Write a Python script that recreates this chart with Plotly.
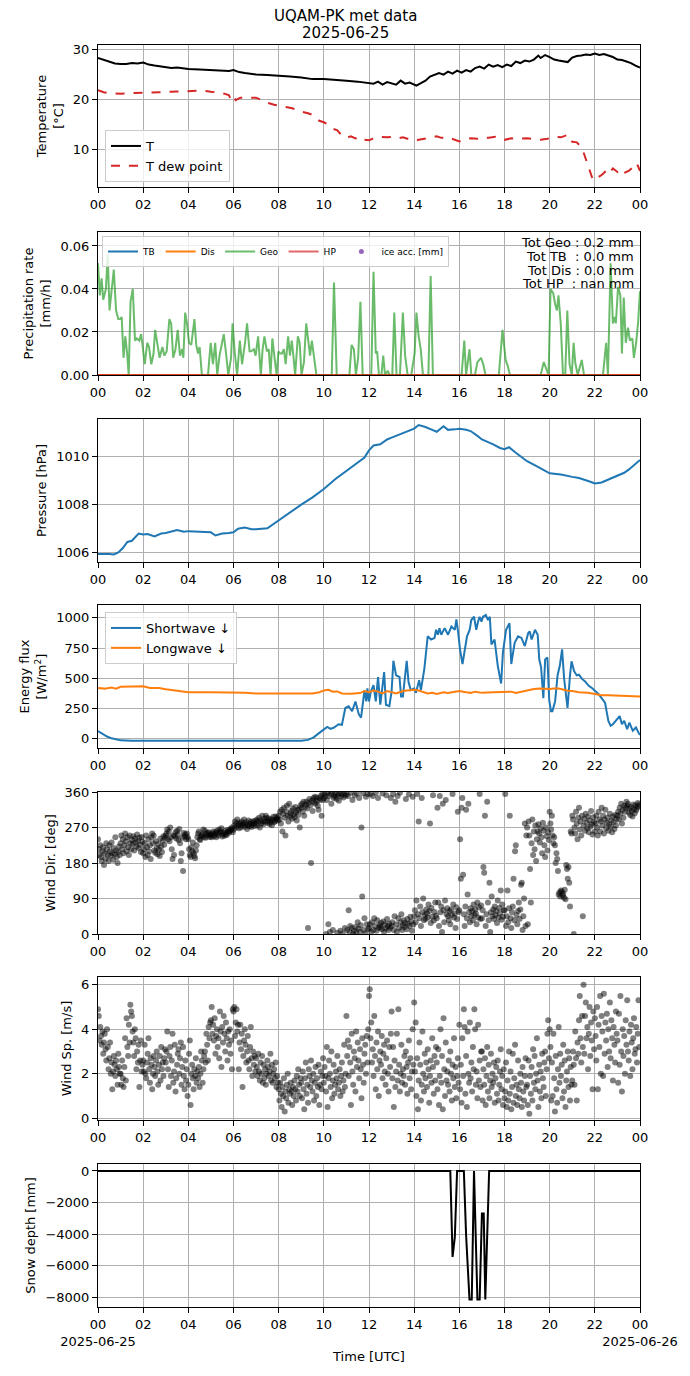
import pandas as pd
import plotly.graph_objects as go

BASE = pd.Timestamp("2025-06-25 00:00")
END = pd.Timestamp("2025-06-26 00:00")

# ---------------- data ----------------
t_hours = [0, 0.25, 0.5, 0.75, 1.0, 1.25, 1.5, 1.75, 2.0, 2.25, 2.5, 2.75, 3.0, 3.25, 3.5, 3.75,
           4.0, 4.5, 5.0, 5.5, 5.8, 6.0, 6.25, 6.5, 7.0, 7.5, 8.0, 8.5, 9.0, 9.5, 10.0, 10.5, 11.0,
           11.5, 12.0, 12.2, 12.4, 12.6, 12.8, 13.0, 13.2, 13.4, 13.6, 13.8, 14.0, 14.1, 14.3, 14.5,
           14.7, 14.9, 15.1, 15.3, 15.5, 15.7, 15.9, 16.1, 16.3, 16.5, 16.7, 16.9, 17.1, 17.3, 17.5,
           17.7, 17.9, 18.1, 18.3, 18.5, 18.7, 18.9, 19.1, 19.3, 19.5, 19.6, 19.8, 20.0, 20.2, 20.4,
           20.6, 20.8, 21.0, 21.2, 21.4, 21.6, 21.8, 22.0, 22.2, 22.4, 22.6, 22.8, 23.0, 23.2, 23.4,
           23.6, 23.8, 24.0]
t_air = [28.3, 27.9, 27.5, 27.2, 27.1, 27.1, 27.3, 27.2, 27.4, 27.0, 26.8, 26.6, 26.5, 26.3, 26.4, 26.2,
         26.1, 26.0, 25.9, 25.8, 25.7, 25.9, 25.5, 25.3, 25.0, 24.9, 24.8, 24.6, 24.4, 24.1, 24.1, 24.0, 23.8,
         23.6, 23.3, 23.2, 23.6, 23.0, 23.5, 23.3, 23.0, 23.8, 23.2, 23.4, 23.0, 22.8, 23.3, 23.8,
         24.6, 25.0, 25.3, 25.0, 25.6, 25.2, 25.8, 25.4, 25.9, 25.6, 26.3, 26.6, 26.2, 27.0, 26.6,
         26.9, 26.5, 27.0, 26.7, 27.6, 27.3, 27.8, 27.6, 28.0, 28.8, 28.3, 28.9, 28.5, 28.0, 27.8,
         27.6, 27.5, 28.4, 28.7, 28.8, 29.0, 28.9, 29.2, 28.9, 29.1, 28.8, 28.5, 28.0, 27.9, 27.6,
         27.3, 26.8, 26.4]

td_hours = [0, 0.25, 0.5, 0.75, 1.0, 1.5, 2.0, 2.5, 3.0, 3.5, 4.0, 4.3, 4.6, 5.0, 5.3, 5.6, 5.8, 5.9,
            6.0, 6.1, 6.3, 6.6, 7.0, 7.2, 7.5, 7.8, 8.0, 8.3, 8.6, 9.0, 9.3, 9.6, 9.8, 10.0, 10.2, 10.4,
            10.6, 10.8, 11.0, 11.2, 11.4, 11.6, 11.8, 12.0, 12.2, 12.5, 12.8, 13.0, 13.3, 13.5, 13.8,
            14.0, 14.2, 14.5, 14.8, 15.0, 15.2, 15.5, 15.8, 16.0, 16.2, 16.5, 16.8, 17.0, 17.3, 17.6,
            17.9, 18.0, 18.3, 18.6, 19.0, 19.3, 19.6, 19.9, 20.2, 20.5, 20.8, 20.9, 21.0, 21.2, 21.35,
            21.5, 21.65, 21.8, 21.9, 22.0, 22.1, 22.3, 22.5, 22.6, 22.8, 23.0, 23.1, 23.3, 23.5, 23.7,
            23.85, 24.0]
t_dew = [21.9, 21.5, 21.3, 21.2, 21.2, 21.3, 21.4, 21.4, 21.5, 21.6, 21.7, 21.8, 21.8, 21.6, 21.5, 21.2, 20.9, 19.8,
         20.5, 19.9, 20.4, 20.4, 20.4, 20.0, 19.4, 19.0, 18.8, 18.6, 18.3, 17.6, 17.3, 16.8, 15.8, 15.5, 15.0, 14.2,
         13.9, 12.8, 12.4, 12.7, 12.3, 12.6, 12.0, 11.9, 12.3, 12.6, 12.5, 12.6, 12.3, 12.5, 12.1,
         11.8, 12.0, 12.2, 12.5, 12.7, 12.4, 12.5, 12.0, 11.7, 12.1, 12.3, 12.2, 12.5, 12.4, 12.6,
         12.2, 12.0, 12.3, 12.2, 12.3, 12.1, 12.0, 12.2, 12.6, 12.5, 13.0, 12.0, 11.6, 11.5, 10.8,
         9.5, 7.5, 5.5, 4.2, 3.9, 4.4, 5.0, 5.8, 5.2, 6.3, 5.6, 6.2, 5.4, 5.8, 6.6,
         7.4, 5.8]

geo_hours = [0.0, 0.08, 0.16, 0.23, 0.35, 0.43, 0.51, 0.62, 0.7, 0.8, 0.9, 0.99, 1.05, 1.13, 1.21, 1.29,
             1.36, 1.44, 1.54, 1.64, 1.72, 1.83, 1.91, 1.97, 2.07, 2.18, 2.26, 2.36, 2.46, 2.53, 2.65,
             2.73, 2.85, 2.94, 3.04, 3.16, 3.24, 3.33, 3.43, 3.53, 3.63, 3.73, 3.78, 3.86, 3.94, 4.03,
             4.13, 4.21, 4.27, 4.35, 4.43, 4.5, 4.6, 4.72, 4.87, 4.99, 5.09, 5.19, 5.28, 5.38, 5.48,
             5.57, 5.67, 5.77, 5.89, 5.96, 6.06, 6.16, 6.28, 6.38, 6.51, 6.6, 6.71, 6.78, 6.9, 6.98,
             7.09, 7.21, 7.29, 7.37, 7.48, 7.56, 7.64, 7.72, 7.84, 7.91, 7.99, 8.07, 8.15, 8.23, 8.31,
             8.42, 8.5, 8.58, 8.65, 8.73, 8.85, 8.93, 9.01, 9.12, 9.22, 9.32, 9.39, 9.47, 9.57, 9.67,
             10.35, 10.45, 10.57, 11.13, 11.23, 11.33, 11.42, 11.52, 11.62, 11.72, 12.1, 12.2, 12.3,
             12.36, 12.44, 12.55, 12.63, 12.71, 12.83, 12.91, 13.03, 13.12, 13.22, 13.37, 13.5, 13.6,
             13.71, 13.87, 14.02, 14.1, 14.2, 14.29, 14.39, 14.63, 14.73, 14.83, 16.1, 16.22, 16.3,
             16.45, 16.53, 16.69, 16.8, 16.96, 17.06, 17.16, 17.75, 17.91, 18.05, 18.15, 18.24,
             19.6, 19.74, 19.86, 19.95, 20.04, 20.16, 20.24, 20.32, 20.39, 20.49, 20.59, 20.69, 20.78,
             20.88, 20.98, 21.06, 21.13, 21.24, 21.42, 21.52, 22.36, 22.5, 22.58, 22.7, 22.8, 22.87,
             22.93, 23.03, 23.13, 23.2, 23.28, 23.37, 23.47, 23.55, 23.66, 23.73, 23.83, 23.92, 24.0]
geo_rate = [0.052, 0.037, 0.045, 0.035, 0.040, 0.056, 0.030, 0.040, 0.049, 0.030, 0.026, 0.026, 0.027, 0.008, 0.018, 0.010,
            0.0, 0.034, 0.040, 0.016, 0.017, 0.016, 0.019, 0.014, 0.005, 0.015, 0.013, 0.005, 0.010, 0.021, 0.012,
            0.008, 0.013, 0.009, 0.011, 0.026, 0.024, 0.008, 0.012, 0.021, 0.009, 0.012, 0.008, 0.029, 0.024, 0.015,
            0.014, 0.021, 0.026, 0.014, 0.010, 0.013, 0.0, 0.0, 0.0, 0.015, 0.005, 0.015, 0.0, 0.009, 0.015,
            0.019, 0.010, 0.0, 0.008, 0.024, 0.010, 0.0, 0.016, 0.005, 0.015, 0.024, 0.011, 0.011, 0.012, 0.009,
            0.018, 0.0, 0.012, 0.018, 0.011, 0.012, 0.0, 0.017, 0.006, 0.0, 0.011, 0.010, 0.010, 0.012, 0.005,
            0.018, 0.009, 0.016, 0.009, 0.0, 0.018, 0.015, 0.0, 0.006, 0.024, 0.016, 0.009, 0.016, 0.008, 0.0,
            0.0, 0.043, 0.0, 0.0, 0.014, 0.012, 0.0, 0.008, 0.034, 0.0, 0.0, 0.048, 0.010,
            0.011, 0.0, 0.0, 0.009, 0.0, 0.002, 0.0, 0.0, 0.029, 0.0, 0.0, 0.029, 0.009,
            0.0, 0.0, 0.010, 0.029, 0.018, 0.012, 0.0, 0.0, 0.046, 0.0, 0.0, 0.016, 0.0,
            0.012, 0.0, 0.0, 0.006, 0.008, 0.005, 0.0, 0.0, 0.021, 0.007, 0.004, 0.0,
            0.0, 0.006, 0.002, 0.0, 0.040, 0.038, 0.033, 0.030, 0.037, 0.024, 0.0, 0.0, 0.030,
            0.005, 0.0, 0.015, 0.006, 0.0, 0.007, 0.0, 0.0, 0.015, 0.0, 0.052, 0.024, 0.027,
            0.024, 0.041, 0.037, 0.010, 0.036, 0.015, 0.022, 0.016, 0.017, 0.008, 0.015, 0.025, 0.039]
zero_hours = [0, 24]
zero_rate = [0.0, 0.0]
precip_totals = ["Tot Geo : 0.2 mm", "Tot TB\u00a0\u00a0: 0.0 mm", "Tot Dis : 0.0 mm", "Tot HP\u00a0\u00a0: nan mm"]

p_hours = [0, 0.3, 0.5, 0.7, 0.9, 1.1, 1.3, 1.5, 1.8, 2.0, 2.2, 2.5, 2.8, 3.0, 3.3, 3.5, 3.8, 4.0, 4.5,
           5.0, 5.2, 5.5, 5.8, 6.0, 6.2, 6.5, 6.8, 7.0, 7.5, 8.0, 8.5, 9.0, 9.5, 10.0, 10.5, 11.0,
           11.5, 11.8, 12.0, 12.2, 12.5, 12.8, 13.0, 13.2, 13.5, 13.8, 14.0, 14.2, 14.5, 14.8, 15.0,
           15.3, 15.5, 15.8, 16.0, 16.3, 16.5, 16.8, 17.0, 17.5, 17.8, 18.0, 18.2, 18.5, 19.0, 19.5,
           20.0, 20.5, 20.8, 21.0, 21.3, 21.5, 21.8, 22.0, 22.3, 22.5, 22.8, 23.0, 23.3, 23.5, 23.8, 24.0]
pressure = [1005.95, 1005.96, 1005.95, 1005.93, 1006.02, 1006.2, 1006.45, 1006.5, 1006.8, 1006.76, 1006.78, 1006.68,
            1006.8, 1006.82, 1006.88, 1006.95, 1006.88, 1006.9, 1006.87, 1006.85, 1006.72, 1006.8, 1006.82, 1006.85,
            1007.0, 1007.05, 1006.98, 1006.98, 1007.02, 1007.35, 1007.7, 1008.0, 1008.3, 1008.65, 1009.05, 1009.4,
            1009.75, 1009.95, 1010.25, 1010.45, 1010.5, 1010.7, 1010.78, 1010.85, 1010.95, 1011.05, 1011.15, 1011.3,
            1011.22, 1011.1, 1011.02, 1011.25, 1011.1, 1011.12, 1011.15, 1011.1, 1011.05, 1010.85, 1010.7, 1010.5,
            1010.35, 1010.3, 1010.38, 1010.15, 1009.8, 1009.55, 1009.3, 1009.25, 1009.18, 1009.15, 1009.1, 1009.05,
            1008.95, 1008.88, 1008.92, 1009.0, 1009.12, 1009.2, 1009.32, 1009.45, 1009.7, 1009.85]

sw_hours = [0.0, 0.2, 0.4, 0.6, 0.8, 1.0, 1.5, 2.0, 3.0, 4.0, 5.0, 6.0, 7.0, 8.0, 8.5, 9.0, 9.3, 9.55,
            9.8, 10.0, 10.15, 10.3, 10.45, 10.65, 10.8, 10.95, 11.1, 11.25, 11.4, 11.55, 11.65, 11.8,
            11.88, 11.93, 12.0, 12.08, 12.2, 12.3, 12.4, 12.5, 12.67, 12.75, 12.9, 13.0, 13.08, 13.2,
            13.35, 13.42, 13.5, 13.67, 13.75, 13.85, 14.0, 14.08, 14.22, 14.3, 14.45, 14.6, 14.75, 14.9,
            14.97, 15.05, 15.12, 15.2, 15.35, 15.5, 15.65, 15.8, 15.87, 15.95, 16.03, 16.14, 16.24,
            16.34, 16.46, 16.53, 16.65, 16.75, 16.83, 16.9, 16.98, 17.05, 17.17, 17.27, 17.35, 17.42,
            17.56, 17.7, 17.85, 17.93, 18.07, 18.22, 18.3, 18.45, 18.6, 18.75, 18.9, 19.05, 19.12,
            19.2, 19.35, 19.47, 19.54, 19.62, 19.72, 19.8, 19.9, 19.98, 20.06, 20.12, 20.24, 20.35,
            20.45, 20.55, 20.64, 20.79, 20.9, 20.97, 21.08, 21.2, 21.3, 21.42, 21.57, 21.72, 21.87,
            22.0, 22.17, 22.3, 22.45, 22.6, 22.7, 22.8, 22.96, 23.1, 23.2, 23.3, 23.43, 23.53, 23.68,
            23.82, 23.97, 24.0]
shortwave = [65, 40, 20, 5, -5, -12, -15, -15, -16, -17, -15, -15, -16, -18, -18, -15, -8, 13,
             50, 81, 99, 82, 94, 121, 116, 255, 269, 228, 309, 202, 175, 403,
             309, 417, 309, 390, 444, 309, 511, 282, 551, 282, 270, 390, 645, 524,
             511, 349, 349, 645, 470, 403, 417, 380, 484, 403, 578, 847, 820, 833,
             901, 860, 914, 860, 914, 860, 927, 900, 987, 874, 739, 618, 739,
             847, 901, 981, 1008, 901, 968, 1008, 968, 1008, 1022, 981, 1008, 780,
             820, 605, 457, 712, 901, 954, 618, 793, 847, 833, 766, 874, 887,
             820, 900, 860, 655, 591, 336, 655, 672, 320, 228, 228, 309, 524,
             605, 739, 497, 255, 524, 640, 560, 524, 530, 497, 475, 440, 420,
             395, 370, 336, 300, 148, 108, 121, 161, 188, 121, 150, 81, 134, 67,
             94, 40, 35]

lw_hours = [0, 0.3, 0.6, 0.8, 1.0, 1.5, 2.0, 2.3, 2.7, 3.0, 3.5, 3.8, 4.0, 5.0, 6.0, 6.5, 7.0, 8.0, 9.0,
            9.5, 9.8, 10.0, 10.2, 10.4, 10.6, 10.8, 11.2, 11.6, 11.8, 12.0, 12.2, 12.4, 12.6, 12.8, 13.0,
            13.2, 13.5, 13.7, 14.0, 14.2, 14.4, 14.6, 14.8, 15.0, 15.3, 15.5, 15.8, 16.0, 16.3, 16.5, 16.7,
            17.0, 17.5, 18.0, 18.3, 18.5, 18.8, 19.0, 19.3, 19.6, 20.0, 20.3, 20.5, 20.8, 21.0, 21.3, 21.7,
            22.0, 22.3, 22.6, 23.0, 23.5, 24.0]
longwave = [420, 415, 425, 415, 430, 435, 435, 420, 420, 410, 400, 395, 385, 385, 385, 380, 375, 372, 375,
            375, 385, 400, 405, 390, 392, 375, 372, 378, 395, 385, 400, 390, 375, 395, 385,
            375, 395, 400, 405, 400, 390, 375, 380, 370, 385, 378, 390, 395, 385, 380, 390,
            380, 385, 385, 390, 380, 395, 400, 412, 415, 412, 418, 412, 398, 395, 385, 380,
            370, 360, 360, 358, 355, 350]

# wind direction [deg], 30 observations per hour (hours 00 .. 23), in time order
wdir_by_hour = [
    [240, 215, 200, 225, 195, 185, 210, 220, 175, 205, 190, 230, 215, 200, 185, 225, 210, 198, 232, 205, 188, 218, 202, 245, 212, 195, 180, 208, 222, 200],
    [230, 250, 215, 240, 205, 225, 255, 235, 210, 245, 220, 200, 250, 230, 215, 238, 228, 248, 212, 242, 232, 222, 252, 236, 218, 244, 226, 208, 246, 234],
    [205, 215, 230, 195, 250, 220, 200, 240, 210, 225, 190, 245, 255, 230, 250, 212, 206, 235, 218, 202, 228, 214, 198, 242, 222, 208, 236, 248, 226, 244],
    [250, 255, 265, 240, 260, 235, 270, 245, 215, 190, 250, 200, 248, 258, 242, 262, 252, 238, 266, 230, 185, 205, 244, 160, 256, 248, 252, 240, 255, 245],
    [240, 215, 200, 195, 220, 210, 232, 205, 198, 192, 212, 225, 245, 255, 260, 240, 238, 248, 252, 250, 265, 245, 262, 244, 255, 250, 256, 258, 246, 252],
    [250, 245, 255, 260, 248, 252, 258, 245, 262, 255, 250, 265, 258, 260, 268, 247, 253, 256, 249, 262, 254, 251, 259, 264, 257, 261, 266, 263, 270, 258],
    [265, 275, 285, 270, 280, 290, 275, 268, 282, 278, 270, 285, 275, 280, 290, 272, 278, 283, 266, 276, 288, 273, 279, 284, 271, 277, 286, 281, 274, 287],
    [280, 290, 275, 285, 295, 270, 288, 280, 300, 285, 278, 292, 285, 300, 295, 282, 287, 293, 279, 284, 291, 276, 289, 297, 283, 286, 298, 290, 294, 288],
    [300, 290, 310, 280, 315, 260, 305, 320, 295, 250, 310, 325, 300, 285, 330, 298, 306, 312, 292, 318, 303, 296, 322, 308, 288, 314, 302, 316, 270, 326],
    [320, 330, 310, 335, 300, 322, 328, 336, 318, 15, 332, 342, 326, 180, 338, 312, 344, 334, 348, 330, 346, 338, 325, 315, 345, 340, 350, 300, 355, 340],
    [345, 355, 350, 0, 340, 358, 25, 350, 5, 355, 330, 360, 10, 345, 352, 348, 356, 342, 3, 353, 338, 357, 8, 349, 354, 2, 346, 359, 15, 351],
    [355, 10, 350, 60, 5, 20, 358, 15, 340, 0, 8, 352, 18, 4, 356, 30, 14, 345, 6, 22, 270, 95, 357, 10, 40, 2, 348, 25, 355, 12],
    [15, 25, 355, 5, 30, 350, 10, 40, 20, 358, 8, 35, 345, 15, 22, 18, 28, 12, 356, 32, 6, 24, 14, 352, 38, 20, 10, 26, 16, 345],
    [20, 30, 355, 10, 45, 335, 25, 5, 350, 40, 15, 358, 30, 50, 10, 22, 35, 18, 28, 342, 12, 38, 26, 354, 20, 44, 32, 8, 348, 24],
    [45, 60, 30, 85, 355, 50, 285, 40, 70, 20, 345, 55, 90, 35, 48, 38, 62, 52, 42, 75, 58, 280, 28, 66, 44, 352, 34, 56, 80, 46],
    [40, 320, 80, 20, 350, 55, 70, 5, 330, 60, 30, 85, 340, 50, 65, 45, 35, 58, 25, 62, 48, 355, 75, 42, 52, 15, 68, 38, 310, 56],
    [60, 240, 140, 320, 345, 150, 50, 20, 70, 315, 40, 100, 330, 55, 30, 65, 45, 58, 35, 75, 48, 62, 52, 25, 80, 42, 68, 355, 38, 72],
    [40, 60, 170, 155, 300, 20, 50, 335, 80, 35, 130, 5, 55, 95, 45, 62, 38, 70, 48, 58, 28, 85, 42, 66, 52, 110, 36, 75, 44, 60],
    [60, 355, 20, 45, 110, 30, 65, 300, 40, 15, 55, 70, 140, 35, 210, 225, 48, 25, 58, 80, 38, 62, 125, 130, 10, 45, 90, 280, 20, 250],
    [270, 25, 285, 250, 165, 80, 230, 290, 200, 260, 215, 275, 185, 240, 260, 278, 255, 232, 268, 245, 205, 282, 262, 225, 195, 270, 248, 212, 258, 238],
    [310, 280, 265, 300, 250, 230, 245, 225, 180, 205, 190, 160, 100, 105, 95, 110, 108, 98, 102, 92, 112, 88, 175, 165, 140, 170, 130, 70, 260, 255],
    [300, 290, 0, 270, 255, 310, 280, 240, 295, 320, 265, 285, 250, 300, 45, 275, 292, 262, 305, 282, 268, 298, 258, 288, 272, 312, 278, 252, 296, 284],
    [260, 280, 300, 270, 250, 310, 290, 260, 285, 320, 275, 300, 255, 290, 315, 268, 282, 295, 262, 278, 305, 272, 288, 258, 298, 284, 266, 302, 276, 292],
    [300, 310, 290, 320, 305, 330, 280, 315, 295, 325, 310, 320, 335, 325, 330, 308, 318, 302, 322, 312, 298, 328, 316, 306, 326, 314, 320, 332, 324, 328],
]

# wind speed [m/s], 30 observations per hour (hours 00 .. 23), in time order
wspd_by_hour = [
    [4.9, 4.6, 3.5, 4.1, 3.7, 3.3, 3.9, 2.9, 3.4, 3.8, 3.1, 2.6, 4.0, 3.2, 2.2, 2.7, 3.4, 2.0, 2.5, 1.3, 2.1, 2.8, 2.4, 1.9, 2.6, 2.2, 1.5, 2.9, 2.3, 2.0],
    [2.0, 1.5, 2.6, 1.8, 1.4, 2.3, 3.6, 1.7, 4.5, 3.2, 2.8, 4.2, 3.4, 5.1, 4.8, 4.6, 3.9, 3.4, 2.8, 4.0, 3.6, 2.2, 3.0, 2.5, 3.3, 1.4, 2.6, 3.5, 2.1, 2.4],
    [2.6, 2.1, 3.3, 2.0, 1.8, 2.5, 2.9, 3.6, 2.2, 1.6, 2.7, 2.4, 1.3, 2.0, 2.8, 2.3, 1.9, 2.6, 3.0, 2.1, 1.5, 2.4, 2.8, 1.7, 3.2, 2.2, 2.5, 1.9, 2.7, 3.1],
    [2.5, 3.0, 3.9, 2.2, 1.4, 2.8, 3.2, 1.9, 2.6, 3.8, 1.6, 2.1, 3.3, 1.2, 1.8, 2.4, 2.9, 3.1, 2.0, 2.7, 3.4, 1.5, 2.3, 3.2, 1.9, 1.3, 2.6, 1.7, 2.2, 1.0],
    [1.5, 2.9, 3.5, 0.6, 2.0, 2.4, 1.8, 1.3, 2.2, 1.9, 2.7, 1.6, 2.1, 1.8, 2.3, 1.4, 2.0, 3.0, 2.6, 1.6, 2.2, 2.8, 3.0, 2.5, 3.8, 3.3, 2.6, 4.1, 3.6, 4.3],
    [4.4, 5.0, 3.8, 4.2, 3.5, 4.5, 2.9, 3.7, 4.0, 3.2, 3.6, 2.7, 4.8, 3.9, 2.3, 4.1, 3.4, 4.6, 3.8, 3.0, 4.3, 3.6, 2.6, 3.9, 3.3, 4.0, 2.9, 3.5, 2.2, 4.9],
    [4.8, 5.0, 3.7, 4.3, 4.9, 3.9, 4.2, 2.2, 3.4, 4.2, 3.1, 3.8, 1.4, 2.8, 3.5, 4.0, 3.3, 2.5, 3.0, 3.7, 2.6, 2.2, 3.2, 4.1, 2.7, 1.9, 3.0, 2.4, 2.8, 2.1],
    [2.7, 2.3, 1.9, 2.9, 2.1, 1.7, 2.5, 2.0, 2.8, 1.6, 2.4, 1.8, 2.2, 1.5, 2.0, 2.6, 2.3, 1.9, 2.1, 2.9, 1.7, 2.4, 1.6, 2.0, 2.2, 1.8, 2.5, 1.4, 1.9, 1.6],
    [1.3, 0.8, 1.6, 1.1, 0.5, 1.4, 1.0, 1.8, 0.3, 1.2, 0.9, 1.5, 2.0, 0.7, 1.3, 1.1, 1.6, 1.2, 0.6, 1.4, 1.0, 1.7, 1.3, 0.8, 1.9, 1.2, 2.2, 1.5, 1.0, 1.8],
    [1.6, 0.9, 2.1, 1.3, 0.4, 1.8, 2.5, 1.1, 1.5, 0.7, 2.2, 1.9, 1.4, 2.6, 1.7, 1.2, 2.0, 0.8, 1.6, 2.3, 1.0, 1.8, 1.4, 2.4, 0.6, 1.5, 2.1, 1.3, 1.9, 2.7],
    [1.6, 2.3, 1.9, 1.2, 3.2, 0.5, 1.8, 2.6, 2.0, 1.4, 3.0, 0.9, 1.7, 2.4, 1.1, 1.5, 2.1, 1.8, 2.8, 1.3, 1.6, 2.2, 1.0, 1.9, 2.5, 1.2, 1.7, 3.3, 1.4, 2.0],
    [4.6, 2.8, 3.5, 1.9, 3.2, 2.5, 0.6, 3.8, 2.1, 1.5, 3.0, 2.7, 1.2, 3.9, 2.3, 3.4, 2.6, 1.8, 3.1, 2.2, 0.9, 3.6, 2.4, 1.6, 2.9, 3.3, 2.0, 3.7, 2.5, 4.0],
    [5.5, 5.8, 3.6, 4.3, 2.5, 3.1, 1.9, 4.6, 2.8, 1.3, 3.4, 2.2, 3.9, 1.0, 2.6, 3.0, 2.4, 3.7, 1.8, 2.9, 3.3, 2.1, 1.5, 2.7, 3.5, 2.0, 1.2, 3.2, 2.3, 3.8],
    [4.8, 1.8, 3.2, 0.5, 2.6, 1.4, 2.1, 3.8, 1.7, 4.9, 2.4, 1.2, 2.0, 3.3, 1.6, 2.2, 1.9, 2.8, 1.5, 3.0, 2.3, 1.1, 2.5, 3.5, 1.8, 2.7, 1.3, 2.1, 4.0, 2.4],
    [5.2, 2.1, 4.3, 1.0, 2.7, 0.4, 1.7, 3.4, 2.4, 0.8, 1.5, 3.9, 2.0, 1.2, 2.9, 1.8, 2.5, 1.4, 3.1, 2.2, 0.7, 1.9, 2.6, 1.6, 3.6, 2.3, 1.1, 2.8, 1.7, 3.2],
    [2.5, 1.3, 3.1, 0.6, 1.9, 4.0, 1.6, 2.8, 0.4, 4.5, 2.2, 1.0, 3.4, 1.7, 2.1, 1.5, 2.6, 1.2, 3.0, 2.0, 0.8, 2.4, 1.8, 3.6, 1.4, 2.3, 0.9, 1.9, 2.7, 1.6],
    [4.2, 1.3, 2.4, 0.7, 3.6, 1.9, 4.9, 4.1, 1.1, 2.8, 0.5, 3.9, 2.0, 1.6, 4.3, 1.8, 2.5, 1.2, 3.2, 2.2, 4.9, 4.0, 1.5, 2.1, 0.9, 4.2, 1.7, 2.6, 1.4, 3.0],
    [3.0, 0.8, 2.2, 1.5, 2.7, 0.6, 1.9, 3.2, 1.2, 2.4, 0.9, 1.7, 2.9, 1.4, 2.0, 1.6, 2.5, 0.7, 1.8, 2.3, 1.1, 2.6, 0.8, 1.5, 2.1, 3.1, 1.3, 1.9, 0.6, 2.2],
    [0.9, 1.2, 2.5, 0.5, 1.7, 0.8, 3.0, 1.1, 2.1, 0.4, 1.4, 2.9, 0.7, 1.8, 3.3, 1.0, 1.5, 0.6, 2.6, 1.3, 0.9, 2.0, 1.6, 0.5, 2.3, 1.2, 0.8, 1.9, 2.7, 1.4],
    [1.5, 0.6, 2.6, 0.2, 1.9, 1.1, 2.3, 0.8, 3.1, 1.6, 2.8, 1.3, 2.0, 3.6, 1.7, 0.5, 2.4, 1.2, 2.1, 0.9, 2.9, 1.8, 1.4, 2.5, 3.0, 1.0, 2.2, 3.8, 4.4, 2.7],
    [4.0, 3.2, 0.8, 2.5, 1.0, 3.8, 1.8, 0.3, 2.8, 1.3, 0.7, 2.2, 4.1, 1.6, 2.9, 1.9, 2.4, 0.9, 3.3, 1.2, 2.6, 0.5, 1.7, 2.1, 3.0, 1.4, 2.7, 0.8, 2.3, 1.5],
    [1.7, 3.0, 2.4, 1.5, 3.9, 2.7, 0.8, 3.4, 2.9, 4.4, 5.5, 3.6, 2.5, 4.6, 3.2, 6.0, 2.9, 4.6, 5.2, 3.6, 4.1, 2.2, 3.8, 5.0, 2.8, 4.3, 3.5, 1.3, 4.8, 3.1],
    [4.5, 3.7, 2.6, 5.0, 1.3, 4.2, 3.2, 5.5, 2.0, 4.6, 3.9, 1.9, 5.6, 2.9, 4.3, 3.5, 4.7, 2.3, 4.0, 3.0, 5.2, 2.7, 4.4, 3.6, 1.7, 4.1, 3.3, 2.5, 4.8, 3.8],
    [3.5, 1.6, 4.7, 2.4, 5.5, 3.0, 1.2, 4.0, 2.8, 3.7, 2.0, 4.4, 3.3, 5.3, 3.0, 2.6, 3.9, 1.9, 4.2, 3.4, 2.2, 3.6, 4.5, 2.9, 3.1, 4.1, 2.5, 3.8, 5.3, 3.2],
]

snow_hours = [0, 15.6, 15.7, 15.8, 15.9, 16.2, 16.3, 16.45, 16.55, 16.65, 16.8, 16.9, 17.0, 17.08,
              17.15, 17.32, 24]
snow_depth = [0, 0, -5450, -4200, 0, 0, -4100, -8150, -8150, 0, -8150, -8150, -2700, -2700,
              -8150, 0, 0]

hour_tick_labels = ["00", "02", "04", "06", "08", "10", "12", "14", "16", "18", "20", "22", "00"]
date_labels = ["2025-06-25", "2025-06-26"]
title_lines = ["UQAM-PK met data", "2025-06-25"]

# ---------------- helpers ----------------
def tt(hours):
    return [BASE + pd.Timedelta(hours=h) for h in hours]

def flat_hourly(by_hour):
    times, vals = [], []
    for h, row in enumerate(by_hour):
        n = len(row)
        for i, v in enumerate(row):
            times.append(BASE + pd.Timedelta(minutes=60 * h + i * 60 / n))
            vals.append(v)
    return times, vals

FONT = "DejaVu Sans"
W, H = 690, 1376
ML, MR, MT, MB = 98, 50, 45, 69
PH = H - MT - MB
PW = W - ML - MR
panels_px = [(45, 187), (232, 375), (419, 562), (605, 748), (792, 934), (977, 1120), (1164, 1307)]

def ydom(top, bot):
    return [(H - MB - bot) / PH, (H - MB - top) / PH]

def py(pix):
    return (H - MB - pix) / PH

def px(pix):
    return (pix - ML) / PW

fig = go.Figure()

tick_vals = [BASE + pd.Timedelta(hours=2 * i) for i in range(13)]

# Panel 1 : temperature
fig.add_trace(go.Scatter(x=tt(t_hours), y=t_air, mode="lines", name="T",
                         line=dict(color="black", width=2), xaxis="x", yaxis="y", legend="legend"))
fig.add_trace(go.Scatter(x=tt(td_hours), y=t_dew, mode="lines", name="T dew point",
                         line=dict(color="#d62728", width=2, dash="dash"), xaxis="x", yaxis="y",
                         legend="legend"))

# Panel 2 : precipitation
fig.add_trace(go.Scatter(x=tt(zero_hours), y=zero_rate, mode="lines", name="TB",
                         line=dict(color="#1f77b4", width=2), xaxis="x2", yaxis="y2", legend="legend2"))
fig.add_trace(go.Scatter(x=tt(zero_hours), y=zero_rate, mode="lines", name="Dis",
                         line=dict(color="#ff7f0e", width=2), xaxis="x2", yaxis="y2", legend="legend2"))
fig.add_trace(go.Scatter(x=tt(geo_hours), y=geo_rate, mode="lines", name="Geo", opacity=0.7,
                         line=dict(color="#2ca02c", width=2), xaxis="x2", yaxis="y2", legend="legend2"))
fig.add_trace(go.Scatter(x=tt(zero_hours), y=zero_rate, mode="lines", name="HP", opacity=0.7,
                         line=dict(color="#d62728", width=2), xaxis="x2", yaxis="y2", legend="legend2"))
fig.add_trace(go.Scatter(x=[BASE], y=[None], mode="markers", name="ice acc. [mm]",
                         marker=dict(color="#9467bd", size=5), xaxis="x2", yaxis="y2", legend="legend2"))

# Panel 3 : pressure
fig.add_trace(go.Scatter(x=tt(p_hours), y=pressure, mode="lines", showlegend=False,
                         line=dict(color="#1f77b4", width=2), xaxis="x3", yaxis="y3"))

# Panel 4 : radiation
fig.add_trace(go.Scatter(x=tt(sw_hours), y=shortwave, mode="lines", name="Shortwave \u2193",
                         line=dict(color="#1f77b4", width=2), xaxis="x4", yaxis="y4", legend="legend3"))
fig.add_trace(go.Scatter(x=tt(lw_hours), y=longwave, mode="lines", name="Longwave \u2193",
                         line=dict(color="#ff7f0e", width=2), xaxis="x4", yaxis="y4", legend="legend3"))

# Panel 5 : wind direction
wd_t, wd_v = flat_hourly(wdir_by_hour)
fig.add_trace(go.Scatter(x=wd_t, y=wd_v, mode="markers", showlegend=False,
                         marker=dict(color="black", size=6, opacity=0.5, line=dict(width=0)),
                         xaxis="x5", yaxis="y5"))

# Panel 6 : wind speed
ws_t, ws_v = flat_hourly(wspd_by_hour)
fig.add_trace(go.Scatter(x=ws_t, y=ws_v, mode="markers", showlegend=False,
                         marker=dict(color="black", size=6, opacity=0.5, line=dict(width=0)),
                         xaxis="x6", yaxis="y6"))

# Panel 7 : snow depth
fig.add_trace(go.Scatter(x=tt(snow_hours), y=snow_depth, mode="lines", showlegend=False,
                         line=dict(color="black", width=2), xaxis="x7", yaxis="y7"))

yconf = [
    dict(range=[2.6, 30.9], tickvals=[10, 20, 30], title="Temperature<br>[\u00b0C]"),
    dict(range=[0, 0.0665], tickvals=[0, 0.02, 0.04, 0.06], tickformat=".2f",
         title="Precipitation rate<br>[mm/h]"),
    dict(range=[1005.62, 1011.55], tickvals=[1006, 1008, 1010], title="Pressure [hPa]"),
    dict(range=[-75, 1105], tickvals=[0, 250, 500, 750, 1000], title="Energy flux<br>[W/m<sup>2</sup>]"),
    dict(range=[0, 360], tickvals=[0, 90, 180, 270, 360], title="Wind Dir. [deg]"),
    dict(range=[-0.08, 6.35], tickvals=[0, 2, 4, 6], title="Wind Sp. [m/s]"),
    dict(range=[-8630, 440], tickvals=[0, -2000, -4000, -6000, -8000],
         ticktext=["0", "\u22122000", "\u22124000", "\u22126000", "\u22128000"], title="Snow depth [mm]"),
]

axis_common = dict(showline=True, mirror=True, linecolor="black", linewidth=1,
                   ticks="outside", ticklen=5, tickwidth=1, tickcolor="black",
                   showgrid=True, gridcolor="#b0b0b0", gridwidth=1, zeroline=False,
                   automargin=False,
                   tickfont=dict(family=FONT, size=13, color="black"))

layout = dict(width=W, height=H, margin=dict(l=ML, r=MR, t=MT, b=MB, autoexpand=False),
              paper_bgcolor="white", plot_bgcolor="white",
              font=dict(family=FONT, size=13, color="black"))

for i, (top, bot) in enumerate(panels_px):
    n = i + 1
    xs = "xaxis" if n == 1 else f"xaxis{n}"
    ys = "yaxis" if n == 1 else f"yaxis{n}"
    ticktext = list(hour_tick_labels)
    if n == 7:
        ticktext[0] = ticktext[0] + "<br>" + date_labels[0]
        ticktext[-1] = ticktext[-1] + "<br>" + date_labels[1]
    xa = dict(axis_common, domain=[0, 1], anchor=("y" if n == 1 else f"y{n}"),
              range=[BASE, END], tickvals=tick_vals, ticktext=ticktext, type="date", tickangle=0)
    if n == 7:
        xa["title"] = dict(text="Time [UTC]", font=dict(family=FONT, size=13), standoff=4)
    yc = dict(yconf[i])
    title = yc.pop("title")
    ya = dict(axis_common, domain=ydom(top, bot), anchor=("x" if n == 1 else f"x{n}"),
              title=dict(text=title, font=dict(family=FONT, size=13), standoff=6), **yc)
    layout[xs] = xa
    layout[ys] = ya

legend_box = dict(bgcolor="rgba(255,255,255,0.8)", bordercolor="#cccccc", borderwidth=1)
layout["legend"] = dict(legend_box, x=px(105), y=py(182), xanchor="left", yanchor="bottom",
                        font=dict(family=FONT, size=13), tracegroupgap=0)
layout["legend2"] = dict(legend_box, x=px(102), y=py(236), xanchor="left", yanchor="top",
                         orientation="h", font=dict(family=FONT, size=9))
layout["legend3"] = dict(legend_box, x=px(105), y=py(612), xanchor="left", yanchor="top",
                         font=dict(family=FONT, size=13))

annotations = []
for k, line in enumerate(title_lines):
    annotations.append(dict(text=line, x=px(W / 2), y=py(16 + 17 * k), xref="paper", yref="paper",
                            xanchor="center", yanchor="middle", showarrow=False,
                            font=dict(family=FONT, size=15)))
for k, txt in enumerate(precip_totals):
    annotations.append(dict(text=txt, x=px(636), y=py(242 + 14 * k), xref="paper", yref="paper",
                            xanchor="right", yanchor="middle", showarrow=False,
                            font=dict(family=FONT, size=13)))
layout["annotations"] = annotations

fig.update_layout(**layout)
fig.write_html("out.html", config={"displayModeBar": False},
               post_script="document.body.style.margin='0';document.body.style.padding='0';")
